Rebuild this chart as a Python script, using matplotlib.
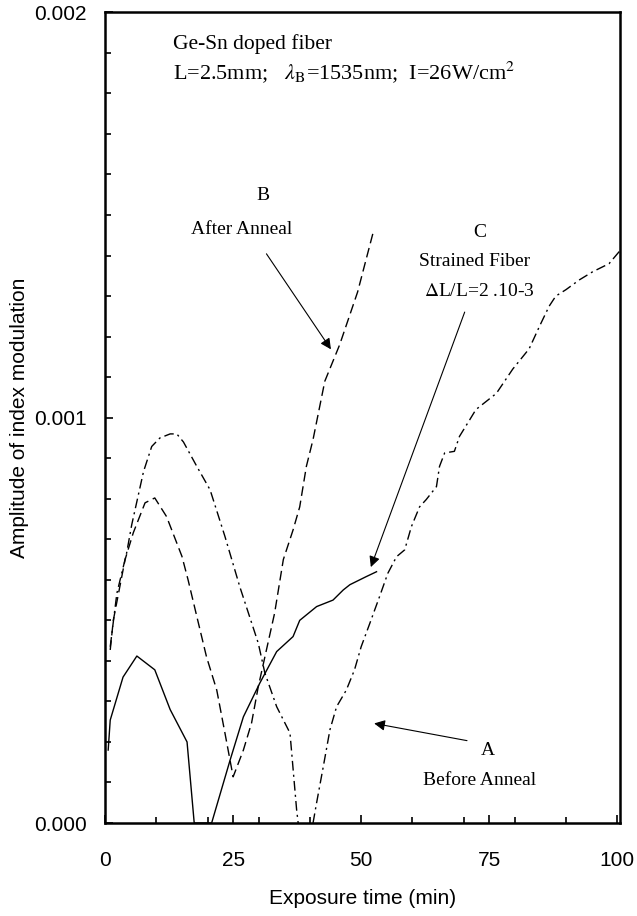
import numpy as np
import matplotlib
matplotlib.use('Agg')
import matplotlib.pyplot as plt
from matplotlib.ticker import FixedLocator, FormatStrFormatter

# Curva A - antes do recozimento (traço-ponto)
tA1 = [1.0, 2.3, 4.2, 5.2, 7.5, 9.1, 10.7, 12.7, 14.0, 15.3, 17.9, 20.5, 23.4,
       26.3, 29.9, 31.2, 33.5, 36.1, 37.4, 37.7]
aA1 = [0.435, 0.567, 0.666, 0.736, 0.867, 0.929, 0.950, 0.960, 0.960, 0.940,
       0.880, 0.822, 0.707, 0.583, 0.444, 0.370, 0.287, 0.222, 0.032, 0.0]
tA2 = [40.6, 41.3, 42.6, 43.9, 45.2, 47.1, 48.7, 50.0, 51.7, 53.6, 55.2, 56.9,
       58.5, 59.8, 61.4, 62.7, 64.7, 65.3, 66.3, 68.2, 69.2, 71.2, 72.4, 76.4,
       79.6, 82.8, 84.8, 86.7, 88.0, 90.0, 92.6, 95.2, 98.4, 100.4]
aA2 = [0.0, 0.05, 0.139, 0.23, 0.287, 0.328, 0.378, 0.435, 0.493, 0.559, 0.616,
       0.657, 0.674, 0.731, 0.780, 0.798, 0.830, 0.880, 0.913, 0.917, 0.954,
       0.995, 1.020, 1.060, 1.120, 1.170, 1.225, 1.275, 1.300, 1.316, 1.340,
       1.360, 1.380, 1.410]

# Curva B - após recozimento (tracejada)
tB = [1.0, 1.6, 3.9, 5.5, 7.8, 9.7, 12.0, 15.0, 16.2, 17.9, 19.8, 21.8, 23.4,
      25.0, 27.0, 28.6, 29.9, 31.5, 33.1, 34.8, 36.7, 38.0, 39.3, 40.6, 42.9,
      45.8, 49.3, 52.4]
aB = [0.427, 0.50, 0.65, 0.716, 0.79, 0.802, 0.756, 0.658, 0.60, 0.51, 0.41,
      0.328, 0.222, 0.114, 0.18, 0.247, 0.336, 0.427, 0.518, 0.65, 0.723, 0.78,
      0.88, 0.946, 1.09, 1.18, 1.31, 1.46]

# Curva C - fibra tensionada (contínua)
tC = [0.6, 1.0, 3.5, 6.2, 9.7, 12.7, 16.0, 17.4, 20.8, 24.4, 27.0, 30.2, 33.5,
      36.7, 38.0, 41.3, 44.5, 46.5, 47.8, 51.0, 53.0]
aC = [0.18, 0.254, 0.36, 0.412, 0.378, 0.28, 0.20, 0.0, 0.0, 0.155, 0.262,
      0.345, 0.423, 0.46, 0.50, 0.534, 0.55, 0.575, 0.588, 0.608, 0.62]

plt.rcParams['font.family'] = 'Liberation Sans'
plt.rcParams['mathtext.fontset'] = 'stix'
serif = 'Liberation Serif'

fig = plt.figure(figsize=(6.37, 9.16), dpi=100)
ax = fig.add_axes([0.165, 0.1015, 0.808, 0.885])

lw = 1.0
ax.plot(tA1, np.array(aA1) * 1e-3, color='k', lw=lw, dashes=(7, 3, 1.5, 3))
ax.plot(tA2, np.array(aA2) * 1e-3, color='k', lw=lw, dashes=(7, 3, 1.5, 3))
ax.plot(tB, np.array(aB) * 1e-3, color='k', lw=lw, dashes=(7, 3.5))
ax.plot(tC, np.array(aC) * 1e-3, color='k', lw=lw)

ax.set_xlim(0, 100.5)
ax.set_ylim(0, 0.002)
ax.xaxis.set_major_locator(FixedLocator([0, 25, 50, 75, 100]))
ax.xaxis.set_minor_locator(FixedLocator([10, 20, 30, 40, 60, 70, 80, 90]))
ax.yaxis.set_major_locator(FixedLocator([0, 0.001, 0.002]))
ax.yaxis.set_minor_locator(FixedLocator(np.arange(1, 20) * 1e-4))
ax.yaxis.set_major_formatter(FormatStrFormatter('%.3f'))
ax.tick_params(which='both', direction='in', labelsize=15, width=1.2)
ax.tick_params(which='major', length=6)
ax.tick_params(axis='y', which='major', pad=13)
ax.tick_params(axis='x', which='major', pad=20)
ax.tick_params(which='minor', length=4)
for s in ax.spines.values():
    s.set_linewidth(1.8)

ax.set_xlabel('Exposure time (min)', fontsize=15, labelpad=14)
ax.set_ylabel('Amplitude of index modulation', fontsize=15, labelpad=4)

ax.text(13.3, 1.921e-3, 'Ge-Sn doped fiber', family=serif, fontsize=15.5, va='center')
ax.text(13.3, 1.852e-3, r'L=2.5mm;   $\lambda_{\mathrm{B}}$=1535nm;  I=26W/cm$^{2}$',
        family=serif, fontsize=16, va='center')

ax.text(30.8, 1.548e-3, 'B', family=serif, fontsize=14, ha='center', va='center')
ax.text(26.7, 1.464e-3, 'After Anneal', family=serif, fontsize=14, ha='center', va='center')
ax.annotate('', xy=(44.4, 1.163e-3), xytext=(31.2, 1.410e-3),
            arrowprops=dict(arrowstyle='-|>', lw=0.8, color='k', mutation_scale=16))

ax.text(73.1, 1.457e-3, 'C', family=serif, fontsize=14, ha='center', va='center')
ax.text(72.1, 1.385e-3, 'Strained Fiber', family=serif, fontsize=14, ha='center', va='center')
ax.text(73.1, 1.311e-3, r'$\Delta$L/L=2 .10-3', family=serif, fontsize=14,
        ha='center', va='center')
ax.annotate('', xy=(51.7, 0.625e-3), xytext=(70.4, 1.267e-3),
            arrowprops=dict(arrowstyle='-|>', lw=0.8, color='k', mutation_scale=16))

ax.text(74.7, 0.180e-3, 'A', family=serif, fontsize=14, ha='center', va='center')
ax.text(73.1, 0.106e-3, 'Before Anneal', family=serif, fontsize=14, ha='center', va='center')
ax.annotate('', xy=(52.0, 0.247e-3), xytext=(71.2, 0.202e-3),
            arrowprops=dict(arrowstyle='-|>', lw=0.8, color='k', mutation_scale=16))

fig.savefig('out.png', dpi=100)
